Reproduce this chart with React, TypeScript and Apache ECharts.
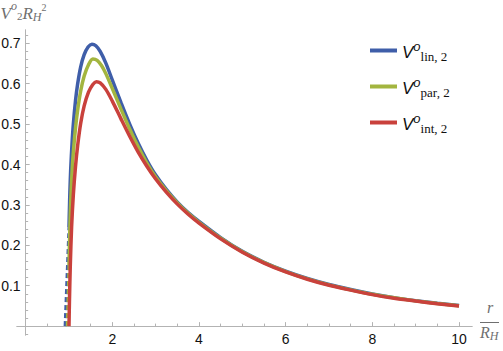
import React, { useEffect, useRef } from "react";
import * as echarts from "echarts";

// ---- data ----
const linR = [1.0, 1.01, 1.02, 1.04, 1.07, 1.1, 1.15, 1.2, 1.27, 1.35, 1.44, 1.53, 1.62, 1.72, 1.85, 2.0, 2.2, 2.4, 2.6, 2.8, 3.0, 3.25, 3.5, 3.75, 4.0, 4.5, 5.0, 5.5, 6.0, 6.5, 7.0, 7.5, 8.0, 8.5, 9.0, 9.5, 10.0];
const linV = [0.245, 0.29, 0.33, 0.39, 0.452, 0.5, 0.558, 0.6, 0.642, 0.672, 0.691, 0.698, 0.694, 0.68, 0.651, 0.609, 0.553, 0.5, 0.452, 0.41, 0.374, 0.338, 0.307, 0.281, 0.259, 0.219, 0.185, 0.158, 0.136, 0.118, 0.103, 0.0905, 0.0795, 0.0705, 0.063, 0.0565, 0.051];

const parR = [1.0, 1.01, 1.02, 1.04, 1.07, 1.1, 1.15, 1.2, 1.27, 1.35, 1.45, 1.55, 1.65, 1.75, 1.85, 2.0, 2.2, 2.4, 2.6, 2.8, 3.0, 3.25, 3.5, 3.75, 4.0, 4.5, 5.0, 5.5, 6.0, 6.5, 7.0, 7.5, 8.0, 8.5, 9.0, 9.5, 10.0];
const parV = [0.15, 0.2, 0.242, 0.31, 0.38, 0.43, 0.49, 0.535, 0.582, 0.619, 0.647, 0.661, 0.658, 0.645, 0.625, 0.588, 0.537, 0.488, 0.443, 0.403, 0.369, 0.335, 0.305, 0.279, 0.257, 0.2175, 0.184, 0.157, 0.135, 0.117, 0.102, 0.0898, 0.0788, 0.07, 0.0625, 0.056, 0.0505];

const intR = [1.0, 1.01, 1.03, 1.06, 1.1, 1.15, 1.2, 1.27, 1.35, 1.45, 1.55, 1.63, 1.72, 1.85, 2.0, 2.2, 2.4, 2.6, 2.8, 3.0, 3.25, 3.5, 3.75, 4.0, 4.5, 5.0, 5.5, 6.0, 6.5, 7.0, 7.5, 8.0, 8.5, 9.0, 9.5, 10.0];
const intV = [0, 0.06, 0.15, 0.245, 0.325, 0.395, 0.447, 0.502, 0.545, 0.579, 0.598, 0.605, 0.602, 0.586, 0.557, 0.513, 0.47, 0.43, 0.395, 0.364, 0.331, 0.302, 0.277, 0.255, 0.216, 0.183, 0.156, 0.134, 0.116, 0.101, 0.089, 0.078, 0.069, 0.062, 0.0555, 0.05];

// dashed connectors at the horizon
const linDashR = [0.91, 1.0];
const linDashV = [0, 0.245];
const parDashR = [0.96, 1.0];
const parDashV = [0, 0.15];

const seriesNames = ["lin, 2", "par, 2", "int, 2"];

// ticks
const xMajorTicks = [2, 4, 6, 8, 10];
const xMinorTicks = [0.5, 1, 1.5, 2.5, 3, 3.5, 4.5, 5, 5.5, 6.5, 7, 7.5, 8.5, 9, 9.5];
const yMajorTicks = [0.1, 0.2, 0.3, 0.4, 0.5, 0.6, 0.7];
const yMinorTicks = [-0.02, 0.02, 0.04, 0.06, 0.08, 0.12, 0.14, 0.16, 0.18, 0.22, 0.24, 0.26, 0.28, 0.32, 0.34, 0.36, 0.38, 0.42, 0.44, 0.46, 0.48, 0.52, 0.54, 0.56, 0.58, 0.62, 0.64, 0.66, 0.68, 0.72];

const BLUE = "#3f5ea9";
const GREEN = "#a3b53f";
const RED = "#c9413c";
const AXIS = "#b3b3b3";
const LABEL_GRAY = "#6f6f6f";

const X_MIN = -0.2;
const X_MAX = 10.3;
const Y_MIN = -0.022;
const Y_MAX = 0.733;

const zip = (a: number[], b: number[]) => a.map((v, i) => [v, b[i]]);

export default function App() {
  const ref = useRef<HTMLDivElement>(null);

  useEffect(() => {
    if (!ref.current) return;
    const chart = echarts.init(ref.current, null, { renderer: "svg" });

    const W = 503;
    const H = 351;
    const grid = { left: 17, right: 31, top: 30, bottom: 16 };
    const plotW = W - grid.left - grid.right;
    const plotH = H - grid.top - grid.bottom;
    // shift the axes from the grid edges onto the zero lines
    const xAxisOffset = -((0 - Y_MIN) / (Y_MAX - Y_MIN)) * plotH;
    const yAxisOffset = -((0 - X_MIN) / (X_MAX - X_MIN)) * plotW;

    const xAxisBase = {
      type: "value",
      min: X_MIN,
      max: X_MAX,
      position: "bottom",
      offset: xAxisOffset,
      splitLine: { show: false },
    };
    const yAxisBase = {
      type: "value",
      min: Y_MIN,
      max: Y_MAX,
      position: "left",
      offset: yAxisOffset,
      splitLine: { show: false },
    };

    const serif = "'Liberation Serif', 'Times New Roman', serif";
    const sans = "'Liberation Sans', Arial, sans-serif";

    const tok = (size: number, italic: boolean, lineHeight: number, padding: number[]) => ({
      fontSize: size,
      fontStyle: italic ? "italic" : "normal",
      fontFamily: serif,
      color: LABEL_GRAY,
      fill: LABEL_GRAY,
      lineHeight,
      padding,
      verticalAlign: "middle",
    });

    const curveSeries = (name: string, r: number[], v: number[], color: string) => ({
      type: "line",
      name,
      data: zip(r, v),
      showSymbol: false,
      smooth: 0.3,
      color,
      lineStyle: { color, width: 3.5 },
    });

    const option: any = {
      animation: false,
      grid: { ...grid, containLabel: false, outerBoundsMode: "none" },
      xAxis: [
        {
          ...xAxisBase,
          axisLine: { show: true, onZero: false, lineStyle: { color: AXIS, width: 1 } },
          axisTick: { show: true, inside: true, length: 4, customValues: xMajorTicks, lineStyle: { color: AXIS } },
          axisLabel: { show: true, customValues: xMajorTicks, margin: 6, color: "#111", fontSize: 14, fontFamily: sans },
        },
        {
          ...xAxisBase,
          axisLine: { show: true, onZero: false, lineStyle: { color: AXIS, width: 1 } },
          axisTick: { show: true, inside: true, length: 2.5, customValues: xMinorTicks, lineStyle: { color: AXIS } },
          axisLabel: { show: false },
        },
      ],
      yAxis: [
        {
          ...yAxisBase,
          axisLine: { show: true, onZero: false, lineStyle: { color: AXIS, width: 1 } },
          axisTick: { show: true, inside: true, length: 4, customValues: yMajorTicks, lineStyle: { color: AXIS } },
          axisLabel: {
            show: true,
            customValues: yMajorTicks,
            margin: 5,
            color: "#111",
            fontSize: 14,
            fontFamily: sans,
            formatter: (v: number) => v.toFixed(1),
          },
        },
        {
          ...yAxisBase,
          axisLine: { show: true, onZero: false, lineStyle: { color: AXIS, width: 1 } },
          axisTick: { show: true, inside: true, length: 2.5, customValues: yMinorTicks, lineStyle: { color: AXIS } },
          axisLabel: { show: false },
        },
      ],
      legend: {
        data: seriesNames,
        orient: "vertical",
        left: 370,
        top: 38,
        padding: 0,
        itemGap: 11,
        icon: "rect",
        itemWidth: 27,
        itemHeight: 4,
        selectedMode: false,
        formatter: (name: string) => `{v|V}{o|o}{s|${name}}`,
        textStyle: {
          color: "#111",
          rich: {
            v: { fontSize: 17, fontStyle: "italic", fontFamily: sans, color: "#111", lineHeight: 20, padding: [3, 0, 0, 0], verticalAlign: "middle" },
            o: { fontSize: 13, fontStyle: "italic", fontFamily: sans, color: "#111", lineHeight: 14, padding: [0, 0, 9, 0], verticalAlign: "middle" },
            s: { fontSize: 13, fontFamily: serif, color: "#111", lineHeight: 14, padding: [12, 0, 0, 0], verticalAlign: "middle" },
          },
        },
      },
      series: [
        {
          type: "line",
          name: "linDash",
          data: zip(linDashR, linDashV),
          showSymbol: false,
          silent: true,
          color: BLUE,
          lineStyle: { color: BLUE, width: 3, type: [5, 3] },
        },
        {
          type: "line",
          name: "parDash",
          data: zip(parDashR, parDashV),
          showSymbol: false,
          silent: true,
          color: GREEN,
          lineStyle: { color: GREEN, width: 3, type: [5, 3] },
        },
        curveSeries(seriesNames[0], linR, linV, BLUE),
        curveSeries(seriesNames[1], parR, parV, GREEN),
        curveSeries(seriesNames[2], intR, intV, RED),
      ],
      graphic: [
        // y-axis label: V^o_2 R_H^2 (one rich text)
        {
          type: "text",
          x: 0.5,
          y: 3,
          silent: true,
          style: {
            text: "{v|V}{o|o}{b|2}{r|R}{h|H}{t|2}",
            fill: LABEL_GRAY,
            align: "left",
            verticalAlign: "top",
            rich: {
              v: tok(17, true, 20, [0, 0, 0, 0]),
              o: tok(12, true, 6, [0, 0, 14, 0]),
              b: tok(11, false, 12, [5, 0, 0, 0]),
              r: tok(17, true, 20, [0, 0, 0, 0]),
              h: tok(12, true, 12, [8, 0, 0, 0]),
              t: tok(10, false, 8, [0, 0, 11, 0]),
            },
          },
        },
        // x-axis label: r / R_H
        {
          type: "text",
          x: 490,
          y: 307.6,
          silent: true,
          style: {
            text: "r",
            fill: LABEL_GRAY,
            fontSize: 16,
            fontStyle: "italic",
            fontFamily: serif,
            align: "center",
            verticalAlign: "middle",
          },
        },
        {
          type: "line",
          silent: true,
          shape: { x1: 480, y1: 322.5, x2: 499, y2: 322.5 },
          style: { stroke: LABEL_GRAY, lineWidth: 1 },
        },
        {
          type: "text",
          x: 480,
          y: 332.5,
          silent: true,
          style: {
            text: "{r|R}{h|H}",
            fill: LABEL_GRAY,
            align: "left",
            verticalAlign: "middle",
            rich: {
              r: tok(16, true, 18, [0, 0, 0, 0]),
              h: tok(12, true, 12, [7, 0, 0, 0]),
            },
          },
        },
      ],
    };

    chart.setOption(option);
    return () => chart.dispose();
  }, []);

  return (
    <div
      ref={ref}
      style={{ position: "fixed", left: 0, top: 0, width: 503, height: 351, background: "#fff" }}
    />
  );
}
